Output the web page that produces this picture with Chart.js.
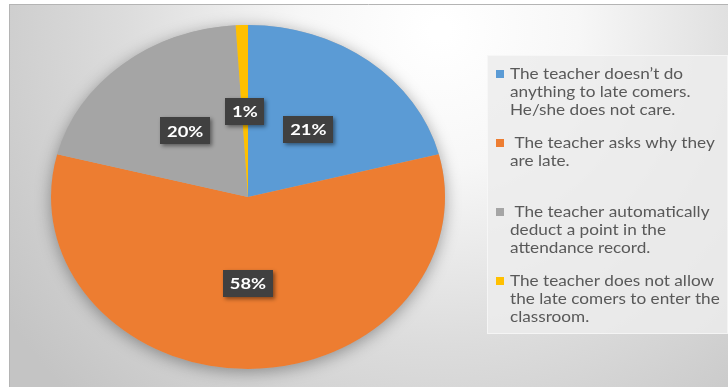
<!DOCTYPE html>
<html>
<head>
<meta charset="utf-8">
<script src="https://cdn.jsdelivr.net/npm/chart.js@4.4.1/dist/chart.umd.min.js"></script>
<style>
  html, body { margin: 0; padding: 0; background: #ffffff; }
  #wrap { width: 728px; height: 387px; }
</style>
</head>
<body>
<div id="wrap"><canvas id="pie" width="728" height="387"></canvas></div>
<script>
// legend entries, each one split into its wrapped lines
const answers = [
  ["The teacher doesn\u2019t do", "anything to late comers.", "He/she does not care."],
  [" The teacher asks why they", "are late."],
  [" The teacher automatically", "deduct a point in the", "attendance record."],
  ["The teacher does not allow", "the late comers to enter the", "classroom."]
];
const shares = [21, 58, 20, 1];
const sliceColors = ["#5b9bd5", "#ed7d31", "#a5a5a5", "#ffc000"];

// everything is drawn a bit wider than tall (pie becomes an ellipse)
const stretchX = 197 / 172;

const ctx = document.getElementById("pie");

function pieCenter(chart) {
  const arc = chart.getDatasetMeta(0).data[0];
  return { x: arc.x, y: arc.y, r: arc.outerRadius };
}

const backdrop = {
  id: "backdrop",
  beforeDraw(chart) {
    const c = chart.ctx;
    c.save();
    // panel with soft radial light from the top
    const g = c.createRadialGradient(440, 30, 10, 440, 30, 520);
    g.addColorStop(0, "#ffffff");
    g.addColorStop(0.25, "#f7f7f7");
    g.addColorStop(0.6, "#dcdcdc");
    g.addColorStop(1, "#c4c4c4");
    c.fillStyle = g;
    c.fillRect(9, 4, 719, 383);
    c.strokeStyle = "#b4b4b4";
    c.lineWidth = 1;
    c.beginPath();
    c.moveTo(9, 4.5); c.lineTo(728, 4.5);
    c.moveTo(9.5, 4); c.lineTo(9.5, 387);
    c.stroke();

    // legend box
    c.fillStyle = "rgba(236,236,236,0.85)";
    c.fillRect(487, 55, 241, 279);
    c.strokeStyle = "rgba(255,255,255,0.5)";
    c.strokeRect(487.5, 55.5, 240, 278);
    c.restore();
  }
};

const ellipse = {
  id: "ellipse",
  beforeDatasetsDraw(chart) {
    const c = chart.ctx;
    const p = pieCenter(chart);
    c.save();
    // shadow under the pie
    c.save();
    c.shadowColor = "rgba(0,0,0,0.35)";
    c.shadowBlur = 16;
    c.shadowOffsetY = 3;
    c.fillStyle = "#b0b0b0";
    c.beginPath();
    c.ellipse(p.x, p.y, p.r * stretchX, p.r, 0, 0, Math.PI * 2);
    c.fill();
    c.restore();
    c.translate(p.x, p.y);
    c.scale(stretchX, 1);
    c.translate(-p.x, -p.y);
  },
  afterDatasetsDraw(chart) {
    chart.ctx.restore();
  }
};

const valueTags = {
  id: "valueTags",
  afterDatasetsDraw(chart) {
    const c = chart.ctx;
    const p = pieCenter(chart);
    const meta = chart.getDatasetMeta(0);
    c.save();
    c.font = "bold 16px Lato";
    c.textAlign = "center";
    c.textBaseline = "middle";
    meta.data.forEach((arc, i) => {
      const pos = arc.tooltipPosition();
      const x = p.x + (pos.x - p.x) * stretchX;
      const y = pos.y;
      const text = shares[i] + "%";
      const w = (c.measureText(text).width + 12) * stretchX;
      const h = 27;
      c.save();
      c.shadowColor = "rgba(0,0,0,0.45)";
      c.shadowBlur = 4;
      c.shadowOffsetX = 2;
      c.shadowOffsetY = 2;
      c.fillStyle = "#404040";
      c.fillRect(Math.round(x - w / 2), Math.round(y - h / 2), Math.round(w), h);
      c.restore();
      c.save();
      c.translate(x, y + 1);
      c.scale(stretchX, 1);
      c.fillStyle = "#ffffff";
      c.fillText(text, 0, 0);
      c.restore();
    });
    c.restore();
  }
};

const sideLegend = {
  id: "sideLegend",
  afterDraw(chart) {
    const c = chart.ctx;
    c.save();
    c.textBaseline = "middle";
    answers.forEach((lines, i) => {
      const top = 74 + i * 69;
      c.fillStyle = sliceColors[i];
      c.fillRect(496, top - 4, 8, 8);
      c.fillStyle = "#595959";
      c.font = "15px Lato";
      lines.forEach((line, j) => {
        c.save();
        c.translate(510, top + j * 18);
        c.scale(stretchX, 1);
        c.fillText(line, 0, 0);
        c.restore();
      });
    });
    c.restore();
  }
};

new Chart(ctx, {
  type: "pie",
  data: {
    labels: answers.map(l => l.join(" ").trim()),
    datasets: [
      {
        data: shares,
        backgroundColor: sliceColors,
        borderWidth: 0,
      },
    ],
  },
  options: {
    responsive: false,
    animation: false,
    layout: {
      padding: { left: 76, right: 308, top: 25, bottom: 18 }
    },
    plugins: {
      legend: { display: false },
      tooltip: { enabled: false }
    }
  },
  plugins: [backdrop, ellipse, valueTags, sideLegend]
});
</script>
</body>
</html>
